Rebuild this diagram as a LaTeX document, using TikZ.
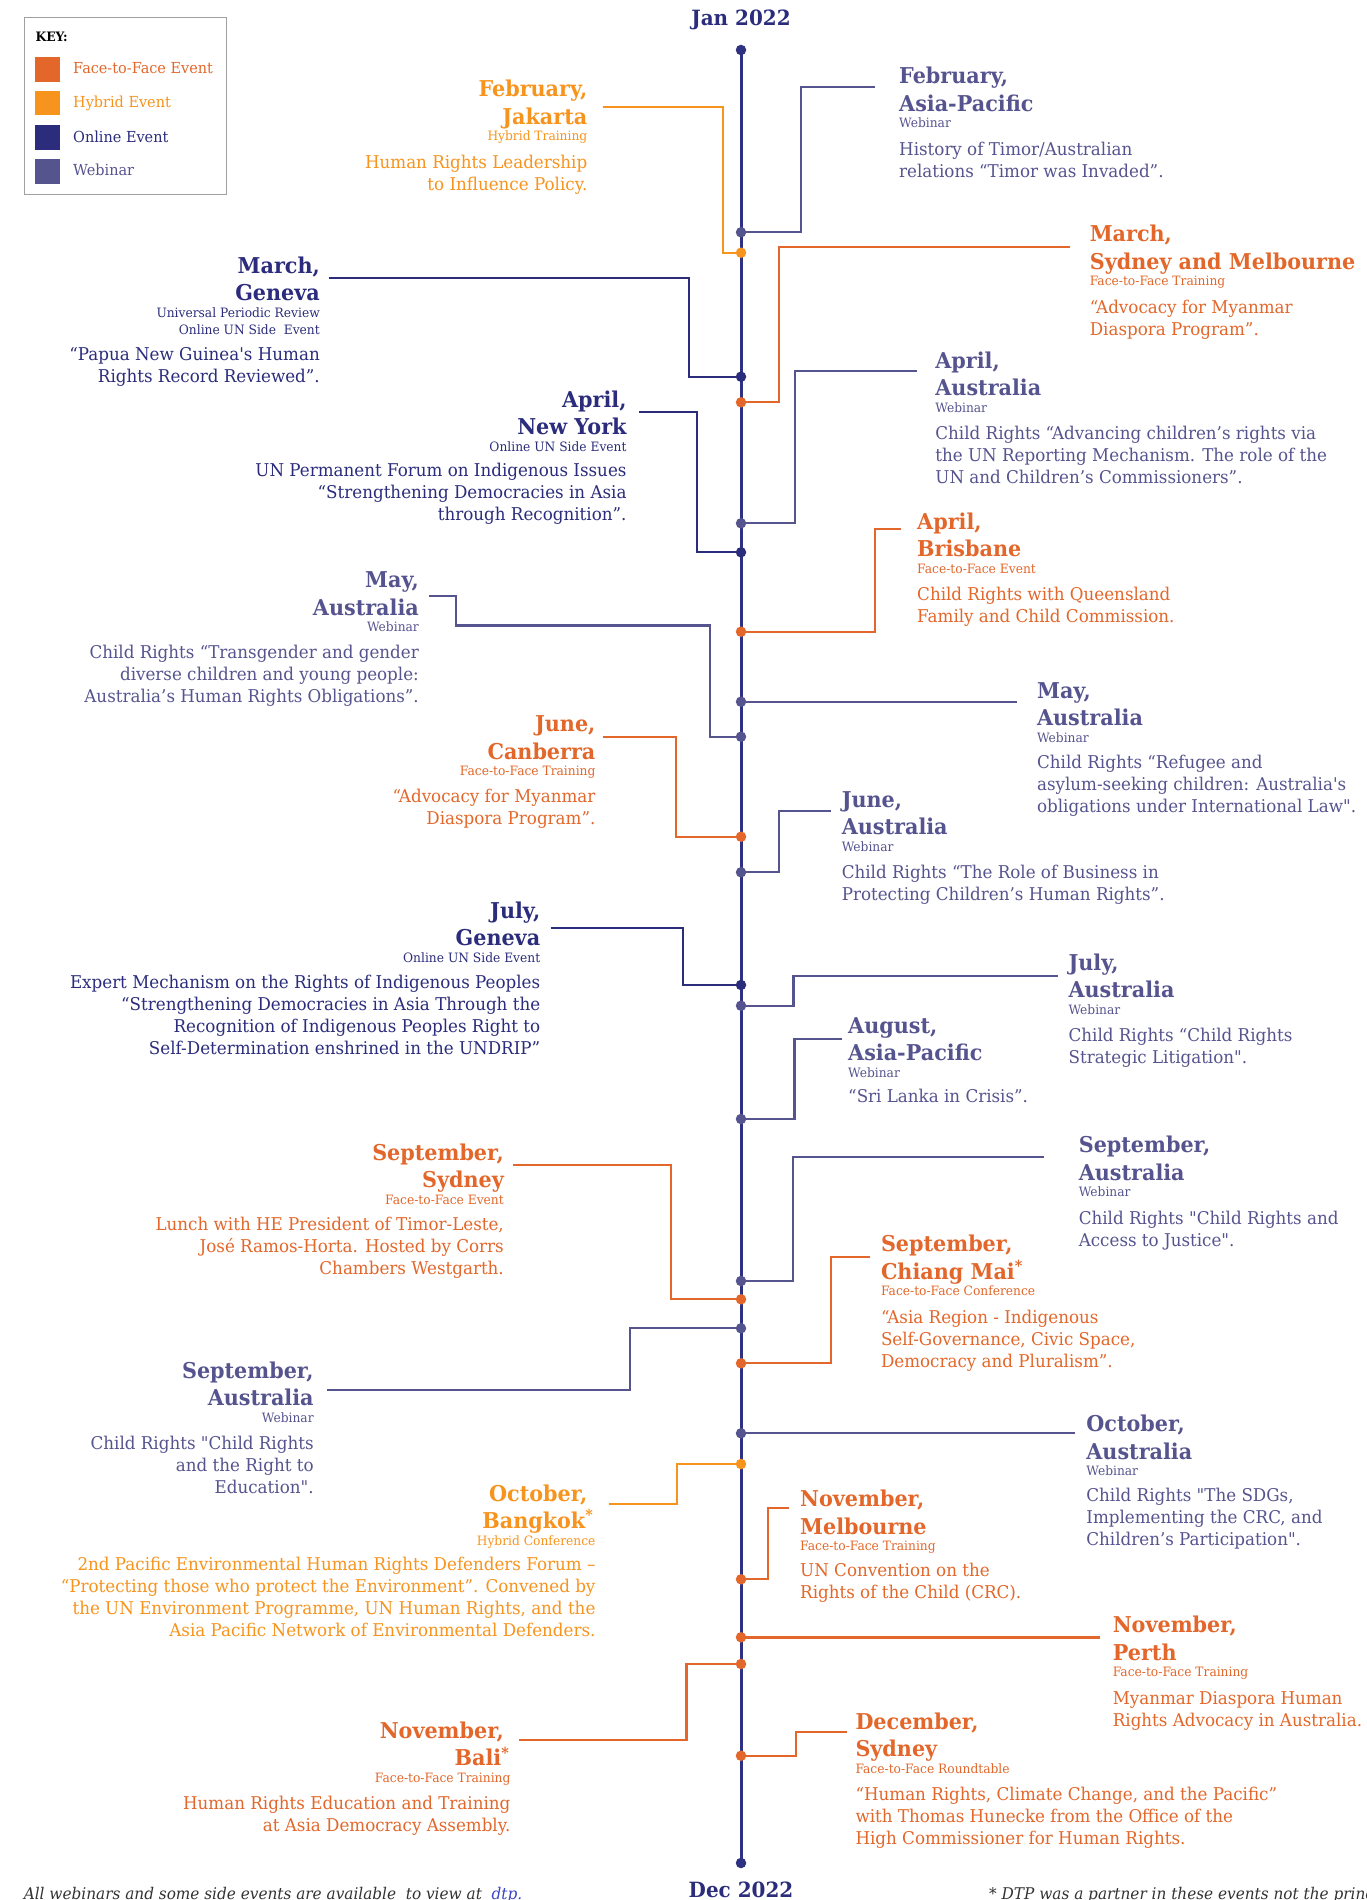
\documentclass[tikz,border=0pt]{standalone}
\usepackage{fontspec}
\setmainfont{DejaVu Serif}[Ligatures=TeXOff,FakeStretch=0.95]
\usetikzlibrary{calc}
\definecolor{ftf}{HTML}{E3672A}
\definecolor{hyb}{HTML}{F7941D}
\definecolor{onl}{HTML}{2B2D7C}
\definecolor{web}{HTML}{56548F}
\definecolor{tlc}{HTML}{2E3081}
\definecolor{keygray}{HTML}{A0A0A0}
\definecolor{foot}{HTML}{333333}
\definecolor{linkc}{HTML}{3B45C8}
\tikzset{
  hd/.style={inner sep=0pt, font=\fontsize{21.8}{26}\selectfont\bfseries},
  subt/.style={inner sep=0pt, font=\fontsize{12.9}{15}\selectfont},
  bd/.style={inner sep=0pt, font=\fontsize{17.6}{22}\selectfont},
  conn/.style={line width=2.3pt},
  tdot/.style={circle, inner sep=0pt, minimum size=10.5pt},
  swatch/.style={inner sep=0pt, minimum width=25pt, minimum height=24.5pt},
  keylab/.style={inner sep=0pt, anchor=base west, font=\fontsize{15.2}{17}\selectfont},
}
\newcommand\evhead[8]{%
  \node[hd,text=#3,anchor=base #2] (#1h1) at (#4,#5) {#6};
  \node[hd,text=#3,anchor=base #2] (#1h2) at (#4,{#5+27.5}) {#7};
  \node[subt,text=#3,anchor=base #2] (#1s) at (#4,{#5+44}) {#8};
}
\newcommand\evbody[6]{%
  \foreach \bline [count=\bi] in {#6} {\node[bd,text=#3,anchor=base #2] (#1b\bi) at (#4,{#5+22*(\bi-1)}) {\bline};}
}
\newcommand\myast{\textsuperscript{*}}
\begin{document}
\begin{tikzpicture}[x=1pt,y=-1pt]
\useasboundingbox (0,0) rectangle (1367,1900);
\clip (0,0) rectangle (1367,1900);
\fill[white] (0,0) rectangle (1367,1900);

% ---------- key ----------
\node[draw=keygray, line width=1.2pt, inner sep=0pt, minimum width=202pt, minimum height=176.7pt, anchor=north west] (keybox) at (23.6,17.3) {};
\node[inner sep=0pt, anchor=base west, font=\fontsize{13}{15}\selectfont\bfseries] (keyt) at (35.4,41.7) {KEY:};
\node[swatch, fill=ftf] (k1) at (47.9,69.5) {};
\node[swatch, fill=hyb] (k2) at (47.9,103) {};
\node[swatch, fill=onl] (k3) at (47.9,137.5) {};
\node[swatch, fill=web] (k4) at (47.9,171.4) {};
\node[keylab, text=ftf] (k1t) at (73,73.6) {Face-to-Face Event};
\node[keylab, text=hyb] (k2t) at (73,107.3) {Hybrid Event};
\node[keylab, text=onl] (k3t) at (73,142.3) {Online Event};
\node[keylab, text=web] (k4t) at (73,175.3) {Webinar};

% ---------- timeline coordinates ----------
\coordinate (tTop) at (741,50);
\coordinate (tBot) at (741,1863);
\coordinate (dA) at (741,252.7);
\coordinate (dB) at (741,232.3);
\coordinate (dC) at (741,376.7);
\coordinate (dD) at (741,402.3);
\coordinate (dE) at (741,552.3);
\coordinate (dF) at (741,523.3);
\coordinate (dG) at (741,631.7);
\coordinate (dH) at (741,736.7);
\coordinate (dI) at (741,701.7);
\coordinate (dJ) at (741,836.7);
\coordinate (dK) at (741,872.3);
\coordinate (dL) at (741,985);
\coordinate (dM) at (741,1005.7);
\coordinate (dN) at (741,1119);
\coordinate (dO) at (741,1299.3);
\coordinate (dP) at (741,1281);
\coordinate (dQ) at (741,1363.3);
\coordinate (dR) at (741,1328.3);
\coordinate (dS) at (741,1433.3);
\coordinate (dT) at (741,1464);
\coordinate (dU) at (741,1579.3);
\coordinate (dV) at (741,1637.3);
\coordinate (dW) at (741,1664);
\coordinate (dX) at (741,1755.7);

% ---------- connector start points ----------
\coordinate (A0) at (602.6,107);
\coordinate (B0) at (875,86.7);
\coordinate (C0) at (329,277.7);
\coordinate (D0) at (1070,247.3);
\coordinate (E0) at (638.5,412.3);
\coordinate (F0) at (917,371);
\coordinate (G0) at (901,529);
\coordinate (H0) at (428.5,596);
\coordinate (I0) at (1016.9,701.7);
\coordinate (J0) at (602.6,736.7);
\coordinate (K0) at (831,811);
\coordinate (L0) at (550.7,928.3);
\coordinate (M0) at (1058,976);
\coordinate (N0) at (841.6,1038.7);
\coordinate (O0) at (513,1165);
\coordinate (P0) at (1043.7,1156.7);
\coordinate (Q0) at (870,1256.7);
\coordinate (R0) at (326.6,1390);
\coordinate (S0) at (1075.2,1433.3);
\coordinate (T0) at (608.8,1504);
\coordinate (U0) at (789.3,1507.7);
\coordinate (V0) at (1099.8,1637.3);
\coordinate (W0) at (519.1,1740);
\coordinate (X0) at (846.7,1732.3);

% ---------- connectors ----------
\draw[conn,hyb] (A0) -- (723,107) |- (dA);
\draw[conn,web] (B0) -- (801,86.7) |- (dB);
\draw[conn,onl] (C0) -- (689,277.7) |- (dC);
\draw[conn,ftf] (D0) -- (778.7,247.3) |- (dD);
\draw[conn,onl] (E0) -- (697,412.3) |- (dE);
\draw[conn,web] (F0) -- (795.3,371) |- (dF);
\draw[conn,ftf] (G0) -- (875.2,529) |- (dG);
\draw[conn,web] (H0) -- (455.9,596) -- (455.9,625.5) -- (710.2,625.5) |- (dH);
\draw[conn,web] (I0) -- (dI);
\draw[conn,ftf] (J0) -- (675.8,736.7) |- (dJ);
\draw[conn,web] (K0) -- (778.7,811) |- (dK);
\draw[conn,onl] (L0) -- (682.9,928.3) |- (dL);
\draw[conn,web] (M0) -- (793.6,976) |- (dM);
\draw[conn,web] (N0) -- (794.4,1038.7) |- (dN);
\draw[conn,ftf] (O0) -- (671,1165) |- (dO);
\draw[conn,web] (P0) -- (792.7,1156.7) |- (dP);
\draw[conn,ftf] (Q0) -- (831,1256.7) |- (dQ);
\draw[conn,web] (R0) -- (630,1390) |- (dR);
\draw[conn,web] (S0) -- (dS);
\draw[conn,hyb] (T0) -- (677.2,1504) |- (dT);
\draw[conn,ftf] (U0) -- (768,1507.7) |- (dU);
\draw[conn,ftf,line width=3pt] (V0) -- (dV);
\draw[conn,ftf] (W0) -- (686.6,1740) |- (dW);
\draw[conn,ftf] (X0) -- (795.7,1732.3) |- (dX);

% ---------- timeline ----------
\draw[tlc, line width=3pt] (tTop) -- (tBot);
\node[tdot, fill=tlc] (pTop) at (tTop) {};
\node[tdot, fill=tlc] (pBot) at (tBot) {};
\foreach \dn/\dc in {A/hyb,B/web,C/onl,D/ftf,E/onl,F/web,G/ftf,H/web,I/web,J/ftf,K/web,L/onl,M/web,N/web,O/ftf,P/web,Q/ftf,R/web,S/web,T/hyb,U/ftf,V/ftf,W/ftf,X/ftf}
  {\node[tdot, fill=\dc] (p\dn) at (d\dn) {};}

\node[hd, text=onl, anchor=base, font=\fontsize{21}{25}\selectfont\bfseries] (jan) at (741,26) {Jan 2022};
\node[hd, text=onl, anchor=base, font=\fontsize{21}{25}\selectfont\bfseries] (dec) at (741,1897) {Dec 2022};

% ---------- events ----------
\evhead{A}{east}{hyb}{587.5}{97}{February,}{Jakarta}{Hybrid Training}
\evbody{A}{east}{hyb}{587.5}{168}{{Human Rights Leadership},{to Influence Policy.}}

\evhead{B}{west}{web}{899}{84}{February,}{Asia-Pacific}{Webinar}
\evbody{B}{west}{web}{899}{155}{{History of Timor/Australian},{relations “Timor was Invaded”.}}

\evhead{C}{east}{onl}{320}{273}{March,}{Geneva}{Universal Periodic Review}
\node[subt,text=onl,anchor=base east] (Cs2) at (320,334) {Online UN Side\ \ Event};
\evbody{C}{east}{onl}{320}{360.7}{{“Papua New Guinea's Human},{Rights Record Reviewed”.}}

\evhead{D}{west}{ftf}{1089.6}{241.7}{March,}{Sydney and Melbourne}{Face-to-Face Training}
\evbody{D}{west}{ftf}{1089.6}{313.3}{{“Advocacy for Myanmar},{Diaspora Program”.}}

\evhead{E}{east}{onl}{626.7}{407.3}{April,}{New York}{Online UN Side Event}
\evbody{E}{east}{onl}{626.7}{476.7}{{UN Permanent Forum on Indigenous Issues},{“Strengthening Democracies in Asia},{through Recognition”.}}

\evhead{F}{west}{web}{935.2}{368.3}{April,}{Australia}{Webinar}
\evbody{F}{west}{web}{935.2}{439.3}{{Child Rights “Advancing children’s rights via},{the UN Reporting Mechanism. The role of the},{UN and Children’s Commissioners”.}}

\evhead{G}{west}{ftf}{917}{529.3}{April,}{Brisbane}{Face-to-Face Event}
\evbody{G}{west}{ftf}{917}{600}{{Child Rights with Queensland},{Family and Child Commission.}}

\evhead{H}{east}{web}{419}{587.7}{May,}{Australia}{Webinar}
\evbody{H}{east}{web}{419}{658.3}{{Child Rights “Transgender and gender},{diverse children and young people:},{Australia’s Human Rights Obligations”.}}

\evhead{I}{west}{web}{1036.9}{698.3}{May,}{Australia}{Webinar}
\evbody{I}{west}{web}{1036.9}{768.3}{{Child Rights “Refugee and},{asylum-seeking children: Australia's},{obligations under International Law".}}

\evhead{J}{east}{ftf}{595.6}{731.7}{June,}{Canberra}{Face-to-Face Training}
\evbody{J}{east}{ftf}{595.6}{802.7}{{“Advocacy for Myanmar},{Diaspora Program”.}}

\evhead{K}{west}{web}{841.6}{807.3}{June,}{Australia}{Webinar}
\evbody{K}{west}{web}{841.6}{878.3}{{Child Rights “The Role of Business in},{Protecting Children’s Human Rights”.}}

\evhead{L}{east}{onl}{540.4}{918.3}{July,}{Geneva}{Online UN Side Event}
\evbody{L}{east}{onl}{540.4}{988.3}{{Expert Mechanism on the Rights of Indigenous Peoples},{“Strengthening Democracies in Asia Through the},{Recognition of Indigenous Peoples Right to},{Self-Determination enshrined in the UNDRIP”}}

\evhead{M}{west}{web}{1068.4}{970}{July,}{Australia}{Webinar}
\evbody{M}{west}{web}{1068.4}{1041}{{Child Rights “Child Rights},{Strategic Litigation".}}

\evhead{N}{west}{web}{848}{1033.3}{August,}{Asia-Pacific}{Webinar}
\evbody{N}{west}{web}{848}{1102.7}{{“Sri Lanka in Crisis”.}}

\evhead{O}{east}{ftf}{504}{1160}{September,}{Sydney}{Face-to-Face Event}
\evbody{O}{east}{ftf}{504}{1230.7}{{Lunch with HE President of Timor-Leste,},{José Ramos-Horta. Hosted by Corrs},{Chambers Westgarth.}}

\evhead{P}{west}{web}{1078.6}{1152.7}{September,}{Australia}{Webinar}
\evbody{P}{west}{web}{1078.6}{1224}{{Child Rights "Child Rights and},{Access to Justice".}}

\evhead{Q}{west}{ftf}{880.8}{1251.7}{September,}{Chiang Mai\myast}{Face-to-Face Conference}
\evbody{Q}{west}{ftf}{880.8}{1323.3}{{“Asia Region - Indigenous},{Self-Governance, Civic Space,},{Democracy and Pluralism”.}}

\evhead{R}{east}{web}{313.8}{1378.3}{September,}{Australia}{Webinar}
\evbody{R}{east}{web}{313.8}{1449.3}{{Child Rights "Child Rights},{and the Right to},{Education".}}

\evhead{S}{west}{web}{1086.2}{1431.7}{October,}{Australia}{Webinar}
\evbody{S}{west}{web}{1086.2}{1501.7}{{Child Rights "The SDGs,},{Implementing the CRC, and},{Children’s Participation".}}

\evhead{T}{east}{hyb}{595.6}{1501}{October,\kern8pt}{Bangkok\myast\kern2pt}{Hybrid Conference}
\evbody{T}{east}{hyb}{595.6}{1570}{{2nd Pacific Environmental Human Rights Defenders Forum –},{“Protecting those who protect the Environment”. Convened by},{the UN Environment Programme, UN Human Rights, and the},{Asia Pacific Network of Environmental Defenders.}}

\evhead{U}{west}{ftf}{800}{1506.7}{November,}{Melbourne}{Face-to-Face Training}
\evbody{U}{west}{ftf}{800}{1576.7}{{UN Convention on the},{Rights of the Child (CRC).}}

\evhead{V}{west}{ftf}{1112.6}{1632.7}{November,}{Perth}{Face-to-Face Training}
\evbody{V}{west}{ftf}{1112.6}{1704}{{Myanmar Diaspora Human},{Rights Advocacy in Australia.}}

\evhead{W}{east}{ftf}{510.6}{1738.3}{November,\kern6.5pt}{Bali\myast\kern1pt}{Face-to-Face Training}
\evbody{W}{east}{ftf}{510.6}{1809.3}{{Human Rights Education and Training},{at Asia Democracy Assembly.}}

\evhead{X}{west}{ftf}{855.3}{1729.3}{December,}{Sydney}{Face-to-Face Roundtable}
\evbody{X}{west}{ftf}{855.3}{1800.7}{{“Human Rights, Climate Change, and the Pacific”},{with Thomas Hunecke from the Office of the},{High Commissioner for Human Rights.}}

% ---------- footnotes ----------
\node[inner sep=0pt, anchor=base west, text=foot, font=\fontsize{16.1}{18}\selectfont\itshape] (fnl) at (23.6,1899) {All webinars and some side events are available\ \ to view at\ \ \textcolor{linkc}{dtp.}};
\node[inner sep=0pt, anchor=base west, text=foot, font=\fontsize{16.1}{18}\selectfont\itshape] (fnr) at (989,1899) {* DTP was a partner in these events not the principal organiser.};
\end{tikzpicture}
\end{document}
